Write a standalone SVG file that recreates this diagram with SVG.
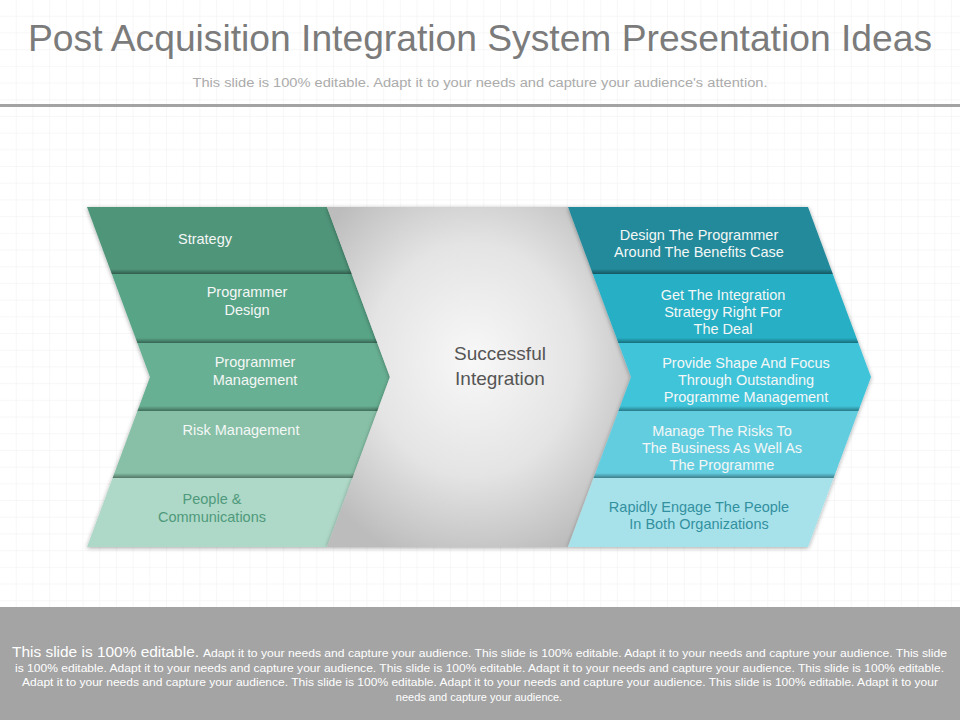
<svg xmlns="http://www.w3.org/2000/svg" width="960" height="720" viewBox="0 0 960 720">
<defs>
<pattern id="grid" width="16.7" height="16.7" patternUnits="userSpaceOnUse">
<path d="M16.7 0V16.7M0 16.7H16.7" fill="none" stroke="#efefef" stroke-width="1"/>
</pattern>
<radialGradient id="gray" cx="48%" cy="45%" r="62%">
<stop offset="0" stop-color="#f8f8f8"/>
<stop offset="0.55" stop-color="#e4e4e4"/>
<stop offset="1" stop-color="#bcbcbc"/>
</radialGradient>
<linearGradient id="band" x1="0" y1="0" x2="0" y2="1">
<stop offset="0" stop-color="#000" stop-opacity="0"/>
<stop offset="1" stop-color="#000" stop-opacity="0.38"/>
</linearGradient>
<filter id="sh" x="-10%" y="-10%" width="120%" height="120%">
<feDropShadow dx="0" dy="1" stdDeviation="2" flood-color="#000" flood-opacity="0.35"/>
</filter>
<clipPath id="clipL"><polygon points="87,207 327,207 390,377 327,547 87,547 150,377"/></clipPath>
<clipPath id="clipR"><polygon points="568,207 808,207 871,377 808,547 568,547 631,377"/></clipPath>
</defs>
<style>
.t{font-family:"Liberation Sans",Arial,sans-serif}
.lbl{font-family:"Liberation Sans",Arial,sans-serif;font-size:14.5px;fill:#f4f7f6;text-anchor:middle}
.foot{font-family:"Liberation Sans",Arial,sans-serif;font-size:11px;fill:#ffffff}
</style>
<rect width="960" height="720" fill="#ffffff"/>
<rect width="960" height="607" fill="url(#grid)"/>
<text class="t" x="480" y="51" font-size="36" fill="#7b7b7b" text-anchor="middle" textLength="904" lengthAdjust="spacingAndGlyphs">Post Acquisition Integration System Presentation Ideas</text>
<text class="t" x="480" y="87" font-size="12.5" fill="#ababab" text-anchor="middle" textLength="575" lengthAdjust="spacingAndGlyphs">This slide is 100% editable. Adapt it to your needs and capture your audience's attention.</text>
<rect x="0" y="104" width="960" height="3" fill="#a3a3a3"/>

<g id="left-chevron" filter="url(#sh)">
<g id="strategy"><polygon points="87,207 327,207 351.8,274 111.8,274" fill="#4f957a"/></g>
<g id="programmer-design"><polygon points="111.8,274 351.8,274 377.4,343 137.4,343" fill="#59a487"/></g>
<g id="programmer-management"><polygon points="137.4,343 377.4,343 390,377 377.4,411 137.4,411 150,377" fill="#68b093"/></g>
<g id="risk-management"><polygon points="137.4,411 377.4,411 352.6,478 112.6,478" fill="#87c0a7"/></g>
<g id="people-communications"><polygon points="112.6,478 352.6,478 327,547 87,547" fill="#aed8c7"/></g>
</g>
<g id="successful-integration" filter="url(#sh)">
<polygon points="327,207 568,207 631,377 568,547 327,547 390,377" fill="url(#gray)"/>
</g>
<g id="right-chevron" filter="url(#sh)">
<g id="design-programmer"><polygon points="568,207 808,207 832.8,274 592.8,274" fill="#218a9b"/></g>
<g id="integration-strategy"><polygon points="592.8,274 832.8,274 858.4,343 618.4,343" fill="#27afc5"/></g>
<g id="shape-focus"><polygon points="618.4,343 858.4,343 871,377 858.4,411 618.4,411 631,377" fill="#41c4da"/></g>
<g id="manage-risks"><polygon points="618.4,411 858.4,411 833.6,478 593.6,478" fill="#63cde0"/></g>
<g id="engage-people"><polygon points="593.6,478 833.6,478 808,547 568,547" fill="#a7e2eb"/></g>
</g>

<g clip-path="url(#clipL)">
<rect x="80" y="269" width="320" height="5" fill="url(#band)"/>
<rect x="80" y="338" width="320" height="5" fill="url(#band)"/>
<rect x="80" y="406" width="320" height="5" fill="url(#band)"/>
<rect x="80" y="473" width="320" height="5" fill="url(#band)"/>
</g>
<g clip-path="url(#clipR)">
<rect x="560" y="269" width="320" height="5" fill="url(#band)"/>
<rect x="560" y="338" width="320" height="5" fill="url(#band)"/>
<rect x="560" y="406" width="320" height="5" fill="url(#band)"/>
<rect x="560" y="473" width="320" height="5" fill="url(#band)"/>
</g>

<g id="connectors"/>

<g id="labels">
<text class="lbl" x="205" y="244">Strategy</text>
<text class="lbl" x="247" y="297">Programmer</text>
<text class="lbl" x="247" y="315">Design</text>
<text class="lbl" x="255" y="367">Programmer</text>
<text class="lbl" x="255" y="385">Management</text>
<text class="lbl" x="241" y="435">Risk Management</text>
<text class="lbl" x="212" y="504" style="fill:#4f9a7c">People &amp;</text>
<text class="lbl" x="212" y="522" style="fill:#4f9a7c">Communications</text>

<text class="t" x="500" y="360" font-size="19" fill="#555555" text-anchor="middle">Successful</text>
<text class="t" x="500" y="385" font-size="19" fill="#555555" text-anchor="middle">Integration</text>

<text class="lbl" x="699" y="240">Design The Programmer</text>
<text class="lbl" x="699" y="257">Around The Benefits Case</text>
<text class="lbl" x="723" y="300">Get The Integration</text>
<text class="lbl" x="723" y="317">Strategy Right For</text>
<text class="lbl" x="723" y="334">The Deal</text>
<text class="lbl" x="746" y="368">Provide Shape And Focus</text>
<text class="lbl" x="746" y="385">Through Outstanding</text>
<text class="lbl" x="746" y="402">Programme Management</text>
<text class="lbl" x="722" y="436">Manage The Risks To</text>
<text class="lbl" x="722" y="453">The Business As Well As</text>
<text class="lbl" x="722" y="470">The Programme</text>
<text class="lbl" x="699" y="512" style="fill:#33909f">Rapidly Engage The People</text>
<text class="lbl" x="699" y="529" style="fill:#33909f">In Both Organizations</text>
</g>

<rect x="0" y="607" width="960" height="113" fill="#a4a4a4"/>
<text class="t" x="12" y="657" font-size="15.5" fill="#ffffff" textLength="187" lengthAdjust="spacingAndGlyphs">This slide is 100% editable.</text>
<text class="foot" x="203" y="657" textLength="744" lengthAdjust="spacingAndGlyphs">Adapt it to your needs and capture your audience. This slide is 100% editable. Adapt it to your needs and capture your audience. This slide</text>
<text class="foot" x="15" y="672" textLength="929" lengthAdjust="spacingAndGlyphs">is 100% editable. Adapt it to your needs and capture your audience. This slide is 100% editable. Adapt it to your needs and capture your audience. This slide is 100% editable.</text>
<text class="foot" x="22" y="686" textLength="916" lengthAdjust="spacingAndGlyphs">Adapt it to your needs and capture your audience. This slide is 100% editable. Adapt it to your needs and capture your audience. This slide is 100% editable. Adapt it to your</text>
<text class="foot" x="479" y="701" text-anchor="middle">needs and capture your audience.</text>
</svg>
